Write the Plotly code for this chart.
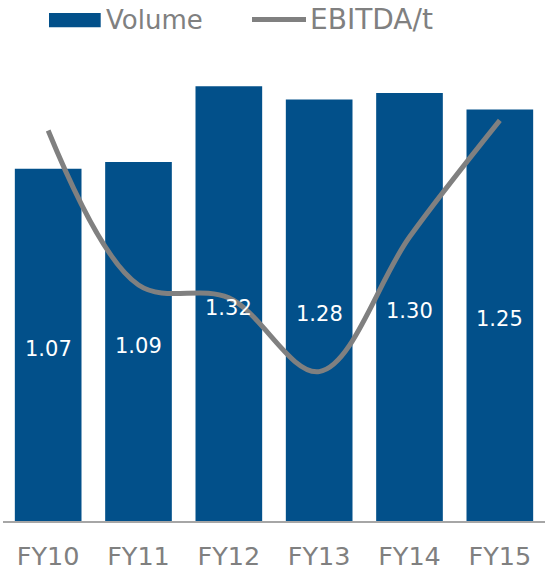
import plotly.graph_objects as go

categories = ["FY10", "FY11", "FY12", "FY13", "FY14", "FY15"]
volume = [1.07, 1.09, 1.32, 1.28, 1.30, 1.25]
ebitda_per_t = [84.7, 51.2, 48.4, 32.4, 61.6, 86.9]  # index scale
volume_labels = [f"{v:.2f}" for v in volume]

W, H = 545, 573
L, R, T, B = 3, 0, 59.5, 51.5
FONT = "Verdana, DejaVu Sans, sans-serif"
BAR_COLOR = "#02508A"
LINE_COLOR = "#808080"
TEXT_GRAY = "#808080"
Y1_MAX = 1.4
Y2_MAX = 100

fig = go.Figure()
fig.add_trace(go.Bar(
    x=categories, y=volume, name="Volume",
    marker=dict(color=BAR_COLOR, line=dict(width=0)),
    showlegend=False, hoverinfo="x+y",
))
fig.add_trace(go.Scatter(
    x=categories, y=ebitda_per_t, name="EBITDA/t", yaxis="y2",
    mode="lines", line=dict(color=LINE_COLOR, width=5, shape="spline", smoothing=1.0),
    showlegend=False,
))

pw, ph = W - L - R, H - T - B
def px(x):
    return (x - L) / pw
def py(y):
    return (H - B - y) / ph

shapes = [
    dict(type="rect", xref="paper", yref="paper",
         x0=px(49), x1=px(100.7), y0=py(26.7), y1=py(12.3),
         fillcolor=BAR_COLOR, line=dict(width=0)),
    dict(type="line", xref="paper", yref="paper",
         x0=px(252), x1=px(306), y0=py(19), y1=py(19),
         line=dict(color=LINE_COLOR, width=5)),
]
annotations = [
    dict(text="Volume", xref="paper", yref="paper", x=px(104), y=py(19),
         xanchor="left", yanchor="middle", showarrow=False,
         font=dict(family=FONT, size=26, color=TEXT_GRAY)),
    dict(text="EBITDA/t", xref="paper", yref="paper", x=px(308), y=py(19),
         xanchor="left", yanchor="middle", showarrow=False,
         font=dict(family=FONT, size=28, color=TEXT_GRAY)),
]
# bar value labels, centred in each bar, drawn above the line
for cat, v, lab in zip(categories, volume, volume_labels):
    annotations.append(dict(
        text=lab, x=cat, y=v / 2, xref="x", yref="y",
        xanchor="center", yanchor="middle", yshift=-4, showarrow=False,
        font=dict(family=FONT, size=21, color="white"),
    ))

fig.update_layout(
    width=W, height=H,
    margin=dict(l=L, r=R, t=T, b=B, pad=0),
    paper_bgcolor="white", plot_bgcolor="white",
    bargap=0.262,
    font=dict(family=FONT),
    xaxis=dict(showline=True, linecolor="#A6A6A6", linewidth=1.5,
               ticks="", showgrid=False, zeroline=False, ticklabelstandoff=12,
               tickfont=dict(family=FONT, size=25.5, color=TEXT_GRAY)),
    yaxis=dict(range=[0, Y1_MAX], visible=False, showgrid=False, zeroline=False),
    yaxis2=dict(range=[0, Y2_MAX], overlaying="y", visible=False,
                showgrid=False, zeroline=False),
    shapes=shapes, annotations=annotations,
    showlegend=False,
)

fig.write_html("out.html", config={"displayModeBar": False},
               post_script="document.body.style.margin='0';")
